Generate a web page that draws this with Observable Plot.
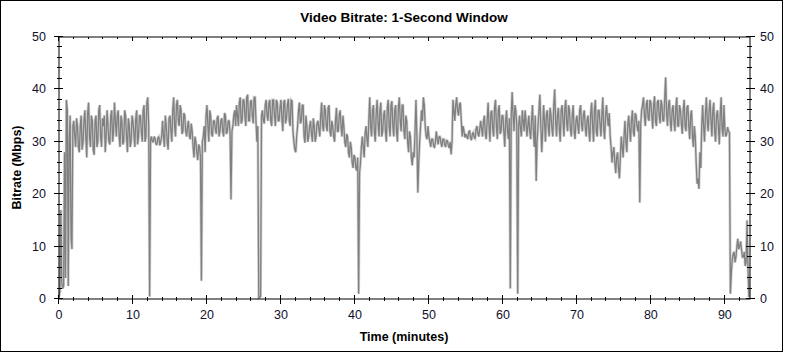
<!DOCTYPE html>
<html>
<head>
<meta charset="utf-8">
<script src="https://cdn.jsdelivr.net/npm/d3@7"></script>
<script src="https://cdn.jsdelivr.net/npm/@observablehq/plot@0.6"></script>
<style>
  html, body { margin: 0; padding: 0; background: #fff; }
  #chart { width: 785px; height: 353px; }
</style>
</head>
<body>
<div id="chart"></div>
<script>
const chartTitle = "Video Bitrate: 1-Second Window";
const xLabel = "Time (minutes)";
const yLabel = "Bitrate (Mbps)";

// bitrate samples (Mbps), one every 0.25 minute (on the quarter)
const sampleStepMin = 0.25;
const bitrate = [
  0.5, 17, 2, 28,        // 0
  38, 2.5, 35, 9.5,      // 1
  34, 29, 33, 28,        // 2
  35, 30, 36, 27,        // 3
  37.5, 29, 34, 27.5,    // 4
  35, 30, 37, 29,        // 5
  33, 28, 36, 30,        // 6
  35, 30, 37.5, 31,      // 7
  36, 29, 34, 30,        // 8
  35, 28, 33, 30,        // 9
  34, 29, 36, 31,        // 10
  35, 30, 37, 31,        // 11
  38.5, 0.5, 31, 30,     // 12
  30.5, 29.5, 31, 30,    // 13
  34, 29, 33, 28.5,      // 14
  35, 30, 38.5, 31,      // 15
  38, 33, 36, 32,        // 16
  35, 31, 34, 30.5,      // 17
  32, 27, 30, 26.5,      // 18
  29, 3.5, 31, 28,       // 19
  37, 30, 35, 31,        // 20
  34, 31.5, 35, 32,      // 21
  34.5, 31, 35, 32,      // 22
  34, 19, 33, 36,        // 23
  37, 33, 38.5, 34,      // 24
  38, 33, 39, 34,        // 25
  38, 33.5, 38.5, 30,    // 26
  0.2, 0.5, 36, 33.5,    // 27
  38, 34, 38, 33,        // 28
  38, 33, 37.5, 34,      // 29
  38, 32, 38, 34.5,      // 30
  38.2, 33, 37.8, 30,    // 31
  28, 33, 37.5, 34,      // 32
  37, 29.8, 33, 31,      // 33
  34, 30, 33, 31,        // 34
  34, 31, 37.5, 32,      // 35
  36, 32, 37, 31,        // 36
  33, 30, 36.5, 32,      // 37
  36, 31, 33, 29,        // 38
  31, 27, 29, 25,        // 39
  27, 24.5, 1, 26,       // 40
  31, 27, 33, 29,        // 41
  38.5, 31, 37, 30,      // 42
  38, 31, 37.5, 32,      // 43
  36, 30, 38, 31,        // 44
  37.8, 31, 37, 30,      // 45
  38.5, 32, 37, 30.5,    // 46
  34, 28, 31, 25.5,      // 47
  27, 38, 20.3, 30,      // 48
  36, 38.5, 33, 30.5,    // 49
  31, 29, 30.5, 28.8,    // 50
  32, 29.5, 31, 29,      // 51
  30.5, 29, 30.2, 28.8,  // 52
  27.6, 38, 34, 38.5,    // 53
  35, 37.5, 31, 32,      // 54
  31.5, 30.5, 32.2, 30.3,// 55
  31.8, 30.6, 33, 31,    // 56
  34, 31, 35, 30.5,      // 57
  37.5, 30, 36, 31,      // 58
  38, 30.5, 37, 32,      // 59
  35, 29, 36, 30.5,      // 60
  2, 39.5, 32, 36,       // 61
  1, 35, 31, 34,         // 62
  36, 31, 35, 30.5,      // 63
  37, 29, 22.5, 33,      // 64
  39, 28, 37, 30,        // 65
  36, 31, 35, 31,        // 66
  40, 31, 36.5, 30,      // 67
  37, 31, 38, 32,        // 68
  36, 31, 37, 30.5,      // 69
  35, 31.5, 37, 32,      // 70
  36, 31, 35, 30,        // 71
  37.5, 30, 38, 31,      // 72
  36, 31, 38.5, 30.5,    // 73
  37, 33, 31, 26,        // 74
  29, 24, 28, 23,        // 75
  31, 27, 34, 28,        // 76
  35, 30, 36, 31,        // 77
  35, 32, 18.4, 36,      // 78
  38.5, 33, 38, 34,      // 79
  37.5, 32.5, 38.7, 33,  // 80
  38, 33.5, 37, 34,      // 81
  42.3, 33, 38, 32,      // 82
  37, 32, 38.5, 33,      // 83
  36, 31.5, 38, 32,      // 84
  37, 30.5, 36, 29,      // 85
  31, 22, 21, 25,        // 86
  37, 30, 38.5, 32,      // 87
  38, 31, 37.5, 30,      // 88
  36, 29.5, 38.5, 31,    // 89
  32.5, 31.5, 32, 1,     // 90
  7.5, 9, 8, 11.5,       // 91
  10, 9.5, 8, 6.3,       // 92
  15, 0.5                // 93
];

// further samples, taken half-way between the ones above
const bitrateOffset = [
  1.5, 3, 2.5, 4,        // 0
  36, 30, 12, 33,        // 1
  31, 34.5, 29, 33,      // 2
  28.5, 34, 31, 35.5,    // 3
  31, 35, 28.5, 34,      // 4
  29, 36, 31, 34.5,      // 5
  35, 31, 33, 29.5,      // 6
  36, 32, 34, 35,        // 7
  31, 35, 29.5, 36,      // 8
  31, 34.5, 29, 35,      // 9
  31.5, 34.5, 29.5, 35,  // 10
  32, 36, 30, 37.5,      // 11
  33, 30.5, 30, 31,      // 12
  29.5, 30.8, 29.3, 31,  // 13
  31, 35, 30, 34.5,      // 14
  32, 36, 33, 37,        // 15
  34, 37, 31.5, 35.5,    // 16
  32, 33, 31, 33.5,      // 17
  29, 31, 28, 29.5,      // 18
  27, 30, 33, 35,        // 19
  33, 36, 31.5, 34,      // 20
  32.5, 34.5, 31, 34,    // 21
  32, 35.5, 31.5, 34,    // 22
  31.5, 32, 35, 33,      // 23
  35, 37.5, 33.5, 38,    // 24
  35, 38.5, 34, 37.5,    // 25
  35, 38.5, 34, 33,      // 26
  0.3, 35, 34, 37,       // 27
  35, 37.5, 34, 38,      // 28
  35, 38, 34, 36.5,      // 29
  34.5, 37.5, 33.5, 37,  // 30
  34, 38, 32, 28.5,      // 31
  31, 36, 33.5, 37,      // 32
  31, 35, 30, 33,        // 33
  31.5, 34.5, 30, 33.5,  // 34
  32.5, 35, 33, 37,      // 35
  33, 36.5, 32, 34,      // 36
  31, 34, 32, 35,        // 37
  33, 35, 30, 31.5,      // 38
  28, 30, 26, 27.5,      // 39
  25, 27, 24, 29,        // 40
  29, 31.5, 30.5, 34,    // 41
  33, 36, 32, 35.5,      // 42
  33.5, 36, 31, 35,      // 43
  32, 36.5, 33, 37,      // 44
  33, 36, 32, 36.5,      // 45
  34, 37, 32, 35,        // 46
  30, 32, 27, 28,        // 47
  32, 31, 26, 33,        // 48
  34, 37, 31, 33,        // 49
  30, 30.5, 29.3, 30,    // 50
  30.5, 31, 29.8, 30.5,  // 51
  29.5, 30.3, 29.3, 30,  // 52
  30, 36, 37, 36,        // 53
  37, 34, 33, 30.8,      // 54
  31, 31.8, 30.8, 31.5,  // 55
  30.8, 32.5, 31.5, 32.5,// 56
  32.5, 34, 31.5, 34,    // 57
  33, 35.5, 32.5, 36.5,  // 58
  33, 36, 31.5, 35,      // 59
  32, 34, 32, 34.5,      // 60
  35, 35, 37, 33,        // 61
  33, 32.5, 36, 32,      // 62
  34, 33, 32, 34,        // 63
  32, 35, 30, 36,        // 64
  33, 32, 34, 35,        // 65
  33, 36.5, 32.5, 37,    // 66
  34, 35, 32.5, 36,      // 67
  34, 36.5, 33.5, 37,    // 68
  32.5, 35, 32, 34,      // 69
  33, 36, 33.5, 35,      // 70
  33, 34, 32, 35.5,      // 71
  33, 36, 32, 36,        // 72
  33.5, 35, 32.5, 35,    // 73
  34.5, 35.5, 29, 28,    // 74
  26, 27, 25, 27,        // 75
  29, 31, 30, 33,        // 76
  32.5, 34, 32, 35.5,    // 77
  33, 34, 33, 37,        // 78
  35, 37, 34.5, 38,      // 79
  35, 37, 34, 37.5,      // 80
  35, 38, 34, 38.5,      // 81
  35.5, 37, 34, 36,      // 82
  34, 36.5, 33, 37,      // 83
  33.5, 36, 33, 36.5,    // 84
  33, 35, 31, 33,        // 85
  26, 23, 28, 33,        // 86
  33, 35, 34, 36,        // 87
  34, 36, 32, 35,        // 88
  33, 35, 32.5, 37,      // 89
  31, 32.8, 31.8, 5,     // 90
  8.5, 7, 10, 9.5,       // 91
  11, 8, 9, 7,           // 92
  6                      // 93
];

const xDomain = [0, 93.4];
const yDomain = [0, 50];
const xTicks = [0, 10, 20, 30, 40, 50, 60, 70, 80, 90];
const xMinorTicks = [2,4,6,8,12,14,16,18,22,24,26,28,32,34,36,38,42,44,46,48,52,54,56,58,62,64,66,68,72,74,76,78,82,84,86,88,92];
const yTicks = [0, 10, 20, 30, 40, 50];
const yMinorTicks = [2,4,6,8,12,14,16,18,22,24,26,28,32,34,36,38,42,44,46,48];

// merge the two sample sets into one time-ordered table
const data = [];
bitrate.forEach((v, i) => {
  data.push({ t: i * sampleStepMin, v });
  if (i < bitrateOffset.length) data.push({ t: i * sampleStepMin + sampleStepMin / 2, v: bitrateOffset[i] });
});

const W = 785, H = 353;
const font = "'Liberation Sans', Arial, sans-serif";
const labelColor = "#10102e";

const plot = Plot.plot({
  width: W,
  height: H,
  marginLeft: 58.5,
  marginRight: 35.5,
  marginTop: 36.5,
  marginBottom: 54.5,
  x: { domain: xDomain },
  y: { domain: yDomain },
  style: { fontFamily: font, fontSize: "12.5px", color: labelColor, background: "#fff" },
  marks: [
    Plot.line(data, { x: "t", y: "v", stroke: "#d2d2d2", strokeWidth: 2.8, strokeLinejoin: "miter", strokeMiterlimit: 3 }),
    Plot.line(data, { x: "t", y: "v", stroke: "#808080", strokeWidth: 1.3, strokeLinejoin: "bevel" }),
    Plot.frame({ stroke: "#000" }),
    Plot.axisX({ anchor: "bottom", ticks: xTicks, tickSize: 0, tickPadding: 11, label: null }),
    Plot.axisY({ anchor: "left", ticks: yTicks, tickSize: 0, tickPadding: 13, label: null }),
    Plot.axisY({ anchor: "right", ticks: yTicks, tickSize: 0, tickPadding: 10, label: null })
  ]
});

document.getElementById("chart").appendChild(plot);

const svg = d3.select(plot);
const xs = plot.scale("x"), ys = plot.scale("y");
const [xL, xR] = xs.range;
const [yB, yT] = ys.range;

const tg = svg.append("g").attr("stroke", "#000").attr("stroke-width", 1).attr("shape-rendering", "crispEdges");
function vline(x, y1, y2) { tg.append("line").attr("x1", x).attr("x2", x).attr("y1", y1).attr("y2", y2); }
function hline(y, x1, x2) { tg.append("line").attr("x1", x1).attr("x2", x2).attr("y1", y).attr("y2", y); }

for (const t of xTicks) {
  const x = xs.apply(t);
  vline(x, yB - 4, yB + 5);
  vline(x, yT, yT + 4);
}
for (const t of xMinorTicks) {
  const x = xs.apply(t);
  vline(x, yB - 2, yB + 2);
  vline(x, yT, yT + 2);
}
for (const v of yTicks) {
  const y = ys.apply(v);
  hline(y, xL - 5, xL + 4);
  hline(y, xR - 4, xR + 5);
}
for (const v of yMinorTicks) {
  const y = ys.apply(v);
  hline(y, xL - 2, xL + 3);
  hline(y, xR - 3, xR + 2);
}

// outer border
svg.append("rect").attr("x", 0.5).attr("y", 0.5).attr("width", 782).attr("height", 351)
  .attr("fill", "none").attr("stroke", "#000").attr("stroke-width", 1);

// title
svg.append("text").attr("x", (xL + xR) / 2).attr("y", 22).attr("text-anchor", "middle")
  .attr("font-family", font).attr("font-weight", "bold").attr("font-size", "13.5px").attr("fill", "#000")
  .text(chartTitle);

// axis labels
svg.append("text").attr("x", (xL + xR) / 2).attr("y", 341).attr("text-anchor", "middle")
  .attr("font-family", font).attr("font-weight", "bold").attr("font-size", "12.5px").attr("fill", "#000")
  .text(xLabel);
svg.append("text").attr("transform", `translate(21,${(yB + yT) / 2}) rotate(-90)`).attr("text-anchor", "middle")
  .attr("font-family", font).attr("font-weight", "bold").attr("font-size", "12.5px").attr("fill", "#000")
  .text(yLabel);
</script>
</body>
</html>
